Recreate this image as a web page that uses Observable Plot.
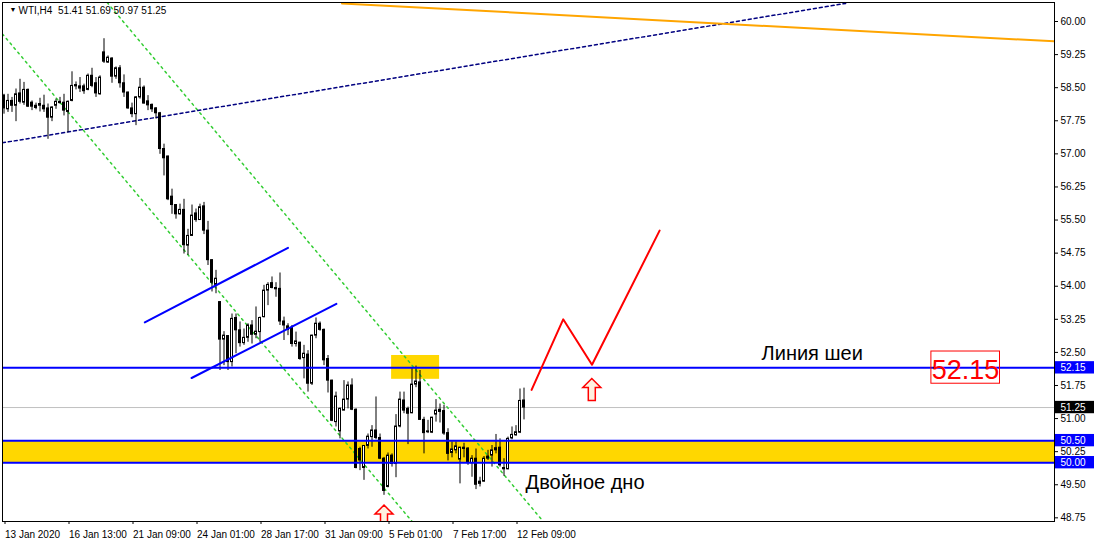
<!DOCTYPE html>
<html><head><meta charset="utf-8">
<script src="https://cdn.jsdelivr.net/npm/d3@7"></script>
<script src="https://cdn.jsdelivr.net/npm/@observablehq/plot@0.6"></script>
<style>html,body{margin:0;padding:0;background:#fff;}</style>
</head><body><div id="chart"></div>
<script>
const symbolName = "WTI,H4";
const open = [58.32,58.01,58.20,58.09,58.37,58.16,58.45,58.16,58.09,58.09,58.09,58.03,57.82,58.09,58.15,58.16,57.95,58.20,58.53,58.53,58.53,58.45,58.77,58.60,58.35,59.30,59.07,59.16,58.75,58.94,58.60,58.39,58.03,57.90,58.28,58.50,58.19,58.11,58.03,57.92,57.11,56.94,56.03,55.84,55.63,55.73,54.92,55.14,55.65,55.50,55.81,55.26,54.59,54.03,53.64,52.79,52.87,52.28,53.28,53.00,52.71,52.83,53.11,52.90,52.96,53.30,53.90,54.07,53.96,53.94,53.20,53.09,53.05,52.69,52.72,52.37,52.45,51.79,52.88,53.15,53.01,52.35,51.86,50.92,50.71,51.18,51.43,51.75,51.20,50.31,49.88,50.38,50.58,50.73,50.56,50.09,49.45,50.16,49.97,50.82,51.41,51.22,51.12,51.77,51.82,50.97,50.69,50.68,51.09,51.15,51.17,50.67,50.22,50.28,50.07,50.34,50.32,49.99,50.09,49.52,49.57,50.09,50.16,50.28,50.34,49.88,49.85,50.55,50.62,50.68,51.41];
const high = [58.35,58.35,58.28,58.47,58.69,58.62,58.47,58.20,58.15,58.26,58.33,58.13,58.07,58.24,58.28,58.35,58.20,58.86,58.63,58.73,58.58,58.81,58.94,58.73,58.77,59.61,59.22,59.18,58.97,59.00,58.79,58.40,58.15,58.30,58.71,58.54,58.32,58.13,58.05,57.94,57.22,56.95,56.20,55.85,55.86,55.97,55.29,55.84,55.75,55.86,55.90,55.47,54.60,54.36,53.65,52.97,52.88,53.37,53.37,53.19,53.03,53.15,53.22,53.53,53.30,54.02,54.08,54.21,54.08,54.30,53.30,53.15,53.11,52.96,52.73,52.66,52.54,52.89,53.28,53.19,53.03,52.43,51.87,51.60,51.24,51.86,51.83,51.90,51.22,50.35,50.39,50.65,50.84,51.49,50.65,50.12,50.22,50.20,51.09,51.60,51.60,51.26,52.16,52.19,52.09,51.03,50.96,51.03,51.43,51.33,51.30,50.77,50.47,50.47,50.35,50.44,50.34,50.16,50.31,49.67,50.14,50.28,50.39,50.64,50.54,50.09,50.58,50.81,50.84,51.67,51.69];
const low = [57.90,57.94,57.94,57.73,58.13,58.10,58.05,57.98,58.00,57.95,57.94,57.33,57.73,58.01,58.13,57.86,57.48,58.18,58.45,58.39,58.35,58.43,58.50,58.28,58.33,59.05,59.05,58.60,58.69,58.49,58.28,58.01,57.82,57.64,58.24,58.13,57.98,57.94,57.79,56.99,56.50,55.94,55.63,55.52,55.61,54.73,54.70,55.13,55.45,55.49,55.17,54.47,53.87,53.83,52.09,52.20,52.09,52.17,52.47,52.62,52.66,52.73,52.69,52.81,52.73,53.28,53.56,53.94,53.75,53.11,52.77,52.88,52.62,52.62,52.32,51.90,51.60,51.75,52.81,52.98,52.20,51.58,50.93,50.81,50.54,51.18,51.22,51.18,49.86,49.82,49.60,50.31,50.35,50.52,50.07,49.26,49.43,49.90,49.66,50.79,51.11,50.41,51.11,51.70,50.96,50.20,50.66,50.66,50.92,50.90,50.62,50.04,50.11,50.20,49.52,50.11,49.94,49.67,49.39,49.45,49.56,50.05,49.90,50.20,49.90,49.69,49.84,50.52,50.60,50.66,50.97];
const close = [58.03,58.20,58.09,58.35,58.18,58.45,58.07,58.07,58.04,58.13,58.01,57.82,58.05,58.18,58.18,57.98,58.18,58.54,58.56,58.48,58.42,58.77,58.54,58.37,58.73,59.09,59.18,58.75,58.94,58.60,58.39,58.03,57.90,58.28,58.50,58.14,58.10,58.01,57.92,57.11,56.90,55.97,55.84,55.63,55.73,54.93,55.14,55.60,55.50,55.79,55.26,54.59,54.08,54.17,52.79,52.88,52.28,53.26,53.00,52.71,52.83,53.11,52.90,52.97,53.28,53.90,54.03,53.96,53.93,53.20,53.11,53.01,52.69,52.75,52.35,52.47,51.79,52.88,53.15,53.01,52.32,51.86,50.95,51.50,51.22,51.43,51.75,51.20,49.88,50.05,50.38,50.59,50.73,50.56,50.09,49.36,50.16,49.97,50.82,51.43,51.18,51.11,51.77,51.84,50.97,50.67,50.71,51.02,51.18,51.20,50.66,50.20,50.30,50.37,50.34,50.31,49.99,50.09,49.50,49.57,50.09,50.14,50.28,50.33,49.94,49.85,50.54,50.63,50.69,51.40,51.25];

const xTickBars = [0,16,32,48,64,80,96,112,128];
const xTickLabels = ["13 Jan 2020","16 Jan 13:00","21 Jan 09:00","24 Jan 01:00","28 Jan 17:00","31 Jan 09:00","5 Feb 01:00","7 Feb 17:00","12 Feb 09:00"];
const yTicks = [48.75,49.50,50.25,51.00,51.75,52.50,53.25,54.00,54.75,55.50,56.25,57.00,57.75,58.50,59.25,60.00];

const bidPrice = 51.25;
const neckline = 52.15;
const supportZone = [50.00, 50.50];
const peakBox = [96.9, 108.9, 51.89, 52.43];
const greenChannelA = [[-0.4, 59.72], [102, 48.67]];
const greenChannelB = [[25.8, 60.43], [134.6, 48.69]];
const navyTrend = [[-0.4, 57.25], [210.4, 60.41]];
const orangeTrend = [[84.5, 60.41], [262.6, 59.55]];
const blueChannelUpper = [[35.2, 53.18], [71.0, 54.87]];
const blueChannelLower = [[46.9, 51.92], [83.1, 53.60]];
const forecastPath = [[131.9, 51.65], [139.8, 53.25], [147.0, 52.22], [163.9, 55.26]];
const arrowMarks = [[146.95, 51.66], [95.0, 48.79]];
const textLabels = [["Линия шеи", 189.4, 52.32], ["Двойное дно", 130.4, 49.40]];
const priceBox = ["52.15", 231.85, 249.0, 51.79, 52.52, 240.4, 51.90];

const xDomain = [-0.375, 262.625];
const yDomain = [48.667, 60.431];

const candles = open.map((o, i) => ({i, o, h: high[i], l: low[i], c: close[i]}));
const pts = arr => arr.map(([i, p]) => ({i, p}));
const last = candles[candles.length - 1];
const header = `${symbolName}  ${last.o.toFixed(2)} ${last.h.toFixed(2)} ${last.l.toFixed(2)} ${last.c.toFixed(2)}`;
const tags = [
  {v: neckline, bg: "#0000ff"},
  {v: bidPrice, bg: "#000000"},
  {v: supportZone[1], bg: "#0000ff"},
  {v: supportZone[0], bg: "#0000ff"}
];

const arrowSymbol = {
  draw(ctx, size) {
    const s = Math.sqrt(size / Math.PI) / 11;
    ctx.moveTo(0, -11 * s);
    ctx.lineTo(9 * s, -2 * s);
    ctx.lineTo(3.5 * s, -2 * s);
    ctx.lineTo(3.5 * s, 11 * s);
    ctx.lineTo(-3.5 * s, 11 * s);
    ctx.lineTo(-3.5 * s, -2 * s);
    ctx.lineTo(-9 * s, -2 * s);
    ctx.closePath();
  }
};

const lineOpts = (stroke, extra) => Object.assign({x: "i", y: "p", stroke, clip: true}, extra);

const chart = Plot.plot({
  width: 1094, height: 541,
  marginLeft: 2, marginRight: 40, marginTop: 2, marginBottom: 20,
  x: {domain: xDomain, label: null},
  y: {domain: yDomain, label: null},
  style: {fontFamily: "'Liberation Sans', Arial, sans-serif", fontSize: "10px", background: "white", color: "black", overflow: "visible"},
  marks: [
    Plot.rect([supportZone], {x1: () => xDomain[0], x2: () => xDomain[1], y1: d => d[0], y2: d => d[1], fill: "#FFD700"}),
    Plot.rect([peakBox], {x1: d => d[0], x2: d => d[1], y1: d => d[2], y2: d => d[3], fill: "#FFD700"}),
    Plot.ruleY([bidPrice], {stroke: "#c0c0c0"}),
    Plot.line(pts(greenChannelA), lineOpts("#32CD32", {strokeDasharray: "2,4"})),
    Plot.line(pts(greenChannelB), lineOpts("#32CD32", {strokeDasharray: "2,4"})),
    Plot.line(pts(navyTrend), lineOpts("#000080", {strokeDasharray: "3,3"})),
    Plot.line(pts(orangeTrend), lineOpts("#FFA500", {strokeWidth: 2})),
    Plot.ruleX(candles, {x: "i", y1: "l", y2: "h", stroke: "black"}),
    Plot.rect(candles, {x1: d => d.i - 0.25, x2: d => d.i + 0.25, y1: "o", y2: "c",
      fill: d => d.c > d.o ? "white" : "black", stroke: "black", strokeWidth: 1}),
    Plot.ruleY([neckline, ...supportZone], {stroke: "#0000ff", strokeWidth: 2}),
    Plot.line(pts(blueChannelUpper), lineOpts("#0000ff", {strokeWidth: 2})),
    Plot.line(pts(blueChannelLower), lineOpts("#0000ff", {strokeWidth: 2})),
    Plot.line(pts(forecastPath), lineOpts("#ff0000", {strokeWidth: 2})),
    Plot.dot(pts(arrowMarks), {x: "i", y: "p", symbol: arrowSymbol, r: 11, fill: "#fff1e0", stroke: "#ff0000", strokeWidth: 1.5, clip: true}),
    Plot.text(textLabels, {x: d => d[1], y: d => d[2], text: d => d[0], textAnchor: "start", lineAnchor: "bottom", fontSize: 20, fill: "black"}),
    Plot.rect([priceBox], {x1: d => d[1], x2: d => d[2], y1: d => d[3], y2: d => d[4], fill: "none", stroke: "#ff0000"}),
    Plot.text([priceBox], {x: d => d[5], y: d => d[6], text: d => d[0], textAnchor: "middle", lineAnchor: "bottom", fontSize: 27, fill: "#ff0000"}),
    Plot.frame({stroke: "black"}),
    Plot.axisY({anchor: "right", ticks: yTicks, tickFormat: d => d.toFixed(2), tickSize: 3, tickPadding: 3, fontSize: 10, label: null}),
    Plot.rect(tags, {x1: () => xDomain[1] + 0.25, x2: () => xDomain[1] + 10, y1: d => d.v - 0.14, y2: d => d.v + 0.14, fill: "bg"}),
    Plot.text(tags, {x: () => xDomain[1], y: "v", dx: 6, text: d => d.v.toFixed(2), textAnchor: "start", fill: "white", fontSize: 10}),
    Plot.axisX({ticks: xTickBars, tickFormat: d => xTickLabels[xTickBars.indexOf(d)], tickSize: 3, tickPadding: 6, textAnchor: "start", dx: 1, fontSize: 10, label: null}),
    Plot.text(["▼"], {frameAnchor: "top-left", dx: 7, dy: 5, lineAnchor: "top", textAnchor: "start", fontSize: 7, fill: "black"}),
    Plot.text([header], {frameAnchor: "top-left", dx: 16, dy: 4, lineAnchor: "top", textAnchor: "start", fontSize: 10, fill: "black"})
  ]
});
document.getElementById("chart").appendChild(chart);
</script>
</body></html>
